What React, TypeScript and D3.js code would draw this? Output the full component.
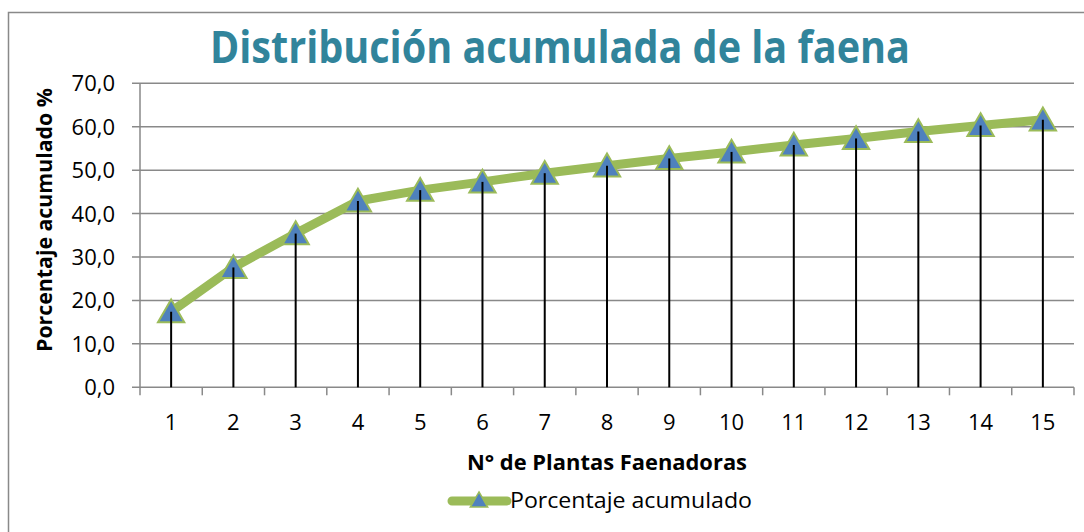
import React from 'react'
import * as d3 from 'd3'

const plantas = ['1', '2', '3', '4', '5', '6', '7', '8', '9', '10', '11', '12', '13', '14', '15']
const porcentaje = [17.4, 27.6, 35.4, 42.9, 45.4, 47.3, 49.3, 51.0, 52.7, 54.2, 55.8, 57.3, 58.9, 60.3, 61.6]
const yTicks = [0, 10, 20, 30, 40, 50, 60, 70]

const W = 1084
const H = 532
const left = 140, right = 1074, top = 83.3, bottom = 387.3
const font = '"Open Sans", "Liberation Sans", sans-serif'
const green = '#9BBB59'
const blue = '#4F81BD'
const grid = '#898989'

export default function App() {
  const x = d3.scaleBand().domain(plantas).range([left, right])
  const y = d3.scaleLinear().domain([0, 70]).range([bottom, top])
  const cx = (k: string) => (x(k) as number) + x.bandwidth() / 2

  const myLine = d3.line<number>()
    .x((v, i) => cx(plantas[i]))
    .y(v => y(v))

  const tri = d3.symbol().type(d3.symbolTriangle).size(300)()
  const triSmall = d3.symbol().type(d3.symbolTriangle).size(130)()

  const fmt = (v: number) => v.toFixed(1).replace('.', ',')

  // tick marks on category boundaries
  const bounds = plantas.map(p => x(p) as number).concat([right])

  return (
    <svg width={W} height={H} style={{ position: 'absolute', left: 0, top: 0 }}>
      <rect x={0} y={0} width={W} height={H} fill="white" />
      <rect x={8.5} y={12.5} width={W + 10} height={H + 10} fill="none" stroke={grid} strokeWidth={1.5} />

      <text x={560} y={63} textAnchor="middle" fontFamily={font} fontWeight="bold" fontSize={44}
        fill="#31849B" textLength={700} lengthAdjust="spacingAndGlyphs">
        Distribución acumulada de la faena
      </text>

      {/* gridlines + y ticks */}
      {yTicks.map(t => (
        <g key={t}>
          <line x1={132} x2={right} y1={y(t)} y2={y(t)} stroke={grid} strokeWidth={1.5} />
          <text x={115} y={y(t)} dy="0.36em" textAnchor="end" fontFamily={font} fontSize={22} fill="#000">
            {fmt(t)}
          </text>
        </g>
      ))}
      <line x1={left} x2={left} y1={top} y2={bottom} stroke={grid} strokeWidth={1.5} />

      {/* x axis */}
      {bounds.map((b, i) => (
        <line key={i} x1={b} x2={b} y1={bottom} y2={bottom + 8} stroke={grid} strokeWidth={1.5} />
      ))}
      {plantas.map(p => (
        <text key={p} x={cx(p)} y={430} textAnchor="middle" fontFamily={font} fontSize={22} fill="#000">{p}</text>
      ))}

      <text x={607} y={470} textAnchor="middle" fontFamily={font} fontWeight="bold" fontSize={22} fill="#000"
        textLength={280} lengthAdjust="spacingAndGlyphs">
        N° de Plantas Faenadoras
      </text>
      <text transform="translate(52,220) rotate(-90)" textAnchor="middle" fontFamily={font} fontWeight="bold"
        fontSize={22} fill="#000" textLength={264} lengthAdjust="spacingAndGlyphs">
        Porcentaje acumulado %
      </text>

      {/* series */}
      <path d={myLine(porcentaje) as string} fill="none" stroke={green} strokeWidth={9} strokeLinejoin="round" />
      {porcentaje.map((v, i) => (
        <path key={'m' + i} d={tri as string} transform={`translate(${cx(plantas[i])},${y(v) + 3})`}
          fill={blue} stroke={green} strokeWidth={2} />
      ))}
      {porcentaje.map((v, i) => (
        <line key={'d' + i} x1={cx(plantas[i])} x2={cx(plantas[i])} y1={y(v)} y2={bottom} stroke="#000" strokeWidth={2} />
      ))}

      {/* legend */}
      <line x1={452} x2={507} y1={501} y2={501} stroke={green} strokeWidth={9} strokeLinecap="round" />
      <path d={triSmall as string} transform="translate(479,502)" fill={blue} stroke={green} strokeWidth={1.5} />
      <text x={510} y={508} fontFamily={font} fontSize={22} fill="#000" textLength={242} lengthAdjust="spacingAndGlyphs">
        Porcentaje acumulado
      </text>
    </svg>
  )
}
